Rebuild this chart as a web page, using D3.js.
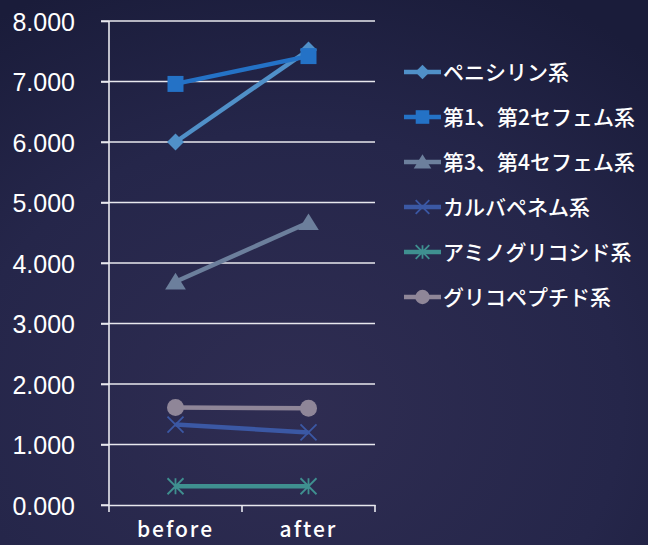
<!DOCTYPE html>
<html><head><meta charset="utf-8">
<script src="https://cdn.jsdelivr.net/npm/d3@7"></script>
<style>html,body{margin:0;padding:0;overflow:hidden;background:#24244a}</style>
</head><body><svg id="c" width="648" height="545"></svg>
<script>
const categories = ["before", "after"];
const seriesNames = ["ペニシリン系", "第1、第2セフェム系", "第3、第4セフェム系", "カルバペネム系", "アミノグリコシド系", "グリコペプチド系"];
const penicillin = [6.00, 7.52];
const cef12 = [6.96, 7.42];
const cef34 = [3.69, 4.67];
const carbapenem = [1.33, 1.20];
const aminoglycoside = [0.31, 0.31];
const glycopeptide = [1.61, 1.60];
const yTicks = [0, 1, 2, 3, 4, 5, 6, 7, 8];
const colors = ["#5090c8", "#2472c6", "#6c7f9c", "#3b58a4", "#3f9090", "#8f8698"];
const markers = ["diamond", "square", "triangle", "x", "star", "circle"];
const seriesValues = [penicillin, cef12, cef34, carbapenem, aminoglycoside, glycopeptide];

const svg = d3.select("#c");
const defs = svg.append("defs");
const rg = defs.append("radialGradient").attr("id","bg").attr("cx","0.45").attr("cy","0.75").attr("r","0.85");
rg.append("stop").attr("offset","0").attr("stop-color","#2f2d52");
rg.append("stop").attr("offset","0.6").attr("stop-color","#25264a");
rg.append("stop").attr("offset","1").attr("stop-color","#1a1c3a");
svg.append("rect").attr("width",648).attr("height",545).attr("fill","url(#bg)");

const x0 = 109, x1 = 375;
const y = d3.scaleLinear().domain([0, 8]).range([505, 21]);
const x = d3.scaleBand().domain(categories).range([x0, x1]);
const cx = d => x(d) + x.bandwidth() / 2;

// gridlines
svg.append("g").selectAll("line").data(yTicks.filter(t => t > 0)).join("line")
  .attr("x1", 101).attr("x2", x1).attr("y1", d => y(d)).attr("y2", d => y(d))
  .attr("stroke", "#e8e8ee").attr("stroke-width", 1.6);

// y axis
const yAxis = svg.append("g").attr("transform", `translate(${x0},0)`)
  .call(d3.axisLeft(y).tickValues(yTicks).tickFormat(d3.format(".3f")).tickSize(8).tickPadding(26));
yAxis.select(".domain").attr("stroke", "#e8e8ee").attr("stroke-width", 1.6).attr("d", `M-8,${y(0)}H0V${y(8)}`);
yAxis.selectAll(".tick line").attr("stroke", "#e8e8ee").attr("stroke-width", 1.6);
yAxis.selectAll(".tick text").attr("fill", "#ffffff").attr("font-family", "Liberation Sans, Arial, sans-serif")
  .attr("font-size", 25).attr("dy", "0.36em");

// x axis
const xAxis = svg.append("g").attr("transform", `translate(0,${y(0)})`)
  .call(d3.axisBottom(x).tickSize(0).tickPadding(17));
xAxis.select(".domain").attr("stroke", "#e8e8ee").attr("stroke-width", 1.6);
xAxis.selectAll(".tick text").attr("fill", "#ffffff").attr("font-family", "Noto Sans CJK JP, sans-serif")
  .attr("font-size", 21).attr("font-weight", "500").attr("letter-spacing", "2px").attr("dy", "0.71em");
svg.append("g").selectAll("line").data([x0, x0 + x.bandwidth(), x1]).join("line")
  .attr("x1", d => d).attr("x2", d => d).attr("y1", y(0)).attr("y2", y(0) + 7)
  .attr("stroke", "#e8e8ee").attr("stroke-width", 1.6);

function drawMarker(g, type, color, px, py, s) {
  if (type === "diamond") {
    g.append("path").attr("d", `M${px},${py - s}L${px + s},${py}L${px},${py + s}L${px - s},${py}Z`).attr("fill", color);
  } else if (type === "square") {
    g.append("rect").attr("x", px - s).attr("y", py - s).attr("width", 2 * s).attr("height", 2 * s).attr("fill", color);
  } else if (type === "triangle") {
    g.append("path").attr("d", `M${px},${py - s}L${px + s * 1.15},${py + s * 0.85}L${px - s * 1.15},${py + s * 0.85}Z`).attr("fill", color);
  } else if (type === "x") {
    g.append("path").attr("d", `M${px - s},${py - s}L${px + s},${py + s}M${px - s},${py + s}L${px + s},${py - s}`)
      .attr("stroke", color).attr("stroke-width", 1.8);
  } else if (type === "star") {
    g.append("path").attr("d", `M${px - s},${py - s}L${px + s},${py + s}M${px - s},${py + s}L${px + s},${py - s}M${px},${py - s}V${py + s}`)
      .attr("stroke", color).attr("stroke-width", 1.8);
  } else if (type === "circle") {
    g.append("circle").attr("cx", px).attr("cy", py).attr("r", s).attr("fill", color);
  }
}
const sizes = {diamond: 8.5, square: 8, triangle: 9, x: 8, star: 8, circle: 8.5};

const line = d3.line().x((d, i) => cx(categories[i])).y(d => y(d));
seriesValues.forEach((vals, si) => {
  const g = svg.append("g");
  g.append("path").datum(vals).attr("d", line).attr("fill", "none")
    .attr("stroke", colors[si]).attr("stroke-width", 4.5);
  vals.forEach((v, i) => drawMarker(g, markers[si], colors[si], cx(categories[i]), y(v), sizes[markers[si]]));
});

// legend
const ly = d3.scalePoint().domain(seriesNames).range([72, 297]);
seriesNames.forEach((n, si) => {
  const g = svg.append("g");
  const yy = ly(n);
  g.append("line").attr("x1", 404).attr("x2", 441).attr("y1", yy).attr("y2", yy)
    .attr("stroke", colors[si]).attr("stroke-width", 4.5);
  drawMarker(g, markers[si], colors[si], 422.5, yy, sizes[markers[si]] * 0.85);
  g.append("text").attr("x", 443).attr("y", yy).attr("dy", "0.36em").text(n)
    .attr("fill", "#ffffff").attr("font-family", "Noto Sans CJK JP, sans-serif")
    .attr("font-size", 21).attr("font-weight", "500");
});
</script></body></html>
